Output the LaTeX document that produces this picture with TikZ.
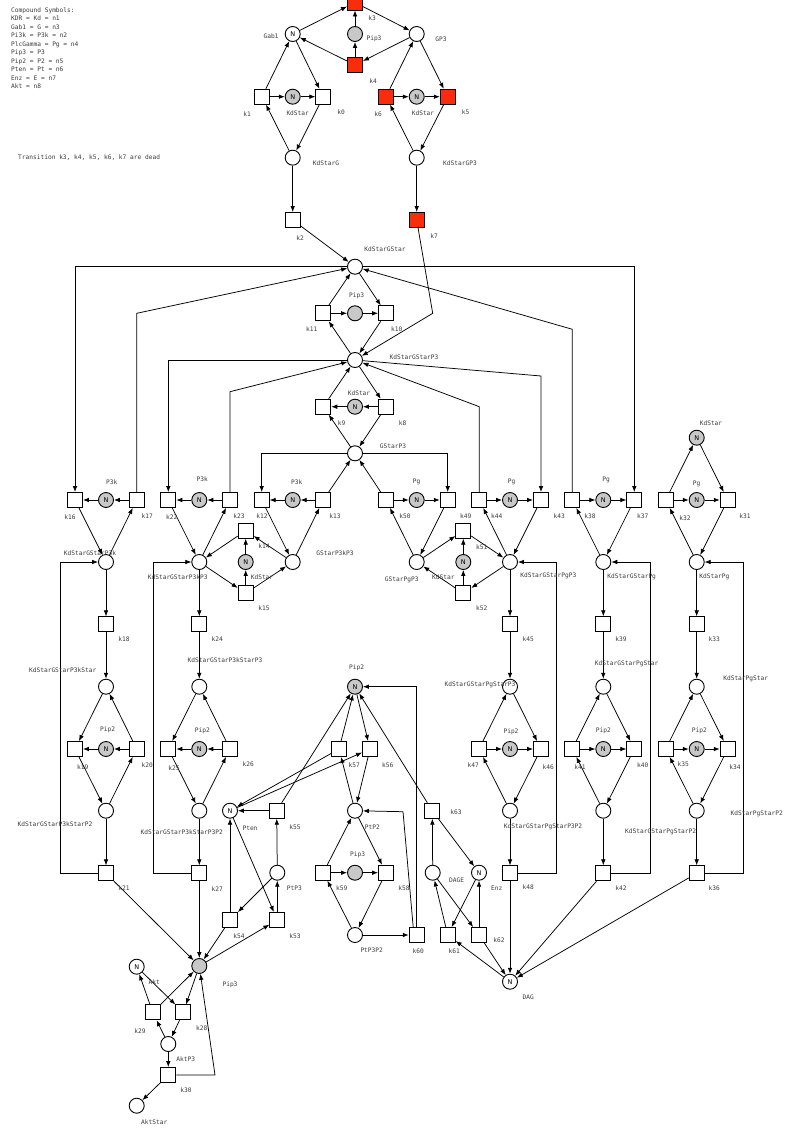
\documentclass[tikz,border=0pt]{standalone}
\usepackage{fontspec}
\newfontfamily\monof{DejaVu Sans Mono}
\newfontfamily\sansf{DejaVu Sans}
\usetikzlibrary{arrows.meta}
\definecolor{deadred}{RGB}{250,45,10}
\definecolor{tokgrey}{RGB}{200,200,200}
\definecolor{lbgrey}{RGB}{60,60,60}
\begin{document}
\begin{tikzpicture}[x=1pt,y=-1pt,
 pl/.style={circle,draw,line width=0.9pt,minimum size=15pt,inner sep=0pt,fill=white},
 gpl/.style={pl,fill=tokgrey},
 tr/.style={rectangle,draw,line width=0.9pt,minimum size=15pt,inner sep=0pt,fill=white},
 dtr/.style={tr,fill=deadred},
 lb/.style={font=\monof\fontsize{6.2}{7}\selectfont,text=lbgrey,inner sep=0pt},
 arc/.style={line width=0.75pt,-{Latex[length=6pt,width=4.6pt]}},
 ntok/.style={font=\sansf\fontsize{6.5}{7}\selectfont}]
\useasboundingbox[fill=white] (0,0) rectangle (787,1129);

% legend
\node[lb,anchor=north west,align=left,font=\monof\fontsize{6.2}{8.5}\selectfont] (legend) at (11,7.2)
 {Compound Symbols:\\KDR = Kd = n1\\Gab1 = G = n3\\Pi3k = P3k = n2\\PlcGamma = Pg = n4\\Pip3 = P3\\Pip2 = P2 = n5\\Pten = Pt = n6\\Enz = E = n7\\Akt = n8};
\node[lb,anchor=west] (note) at (18,158) {Transition k3, k4, k5, k6, k7 are dead};

% top
\node[dtr] (k3) at (355,2.5) {};
\node[pl,ntok] (Gab1) at (292.7,34) {N};
\node[gpl] (Pip3a) at (355,34) {};
\node[pl] (GP3) at (416.7,34) {};
\node[dtr] (k4) at (355,65) {};
\node[tr] (k1) at (262,96.7) {};
\node[gpl,ntok] (Kd1) at (292.7,96.7) {N};
\node[tr] (k0) at (323.3,96.7) {};
\node[dtr] (k6) at (386,96.7) {};
\node[gpl,ntok] (Kd2) at (416.7,96.7) {N};
\node[dtr] (k5) at (447.7,96.7) {};
\node[pl] (KdSG) at (292.7,157.7) {};
\node[pl] (KdSGP3) at (416.7,157.7) {};
\node[tr] (k2) at (292.7,220) {};
\node[dtr] (k7) at (416.7,220) {};
\node[pl] (KdSGS) at (355,266.7) {};
\node[tr] (k11) at (323.3,313.3) {};
\node[gpl] (Pip3b) at (355,313.3) {};
\node[tr] (k10) at (386,313.3) {};
\node[pl] (KdSGSP3) at (355,360) {};
\node[tr] (k9) at (323.3,406.7) {};
\node[gpl,ntok] (Kd3) at (355,406.7) {N};
\node[tr] (k8) at (386,406.7) {};
\node[pl] (GSP3) at (355,453.3) {};
\node[gpl,ntok] (Kd6) at (696.7,437.7) {N};
% row 500
\node[tr] (k16) at (75,500) {};
\node[gpl,ntok] (P3k1) at (106,500) {N};
\node[tr] (k17) at (136.7,500) {};
\node[tr] (k22) at (168.3,500) {};
\node[gpl,ntok] (P3k2) at (199.3,500) {N};
\node[tr] (k23) at (230,500) {};
\node[tr] (k12) at (261.7,500) {};
\node[gpl,ntok] (P3k3) at (292.7,500) {N};
\node[tr] (k13) at (323.3,500) {};
\node[tr] (k50) at (386,500) {};
\node[gpl,ntok] (Pg1) at (416.7,500) {N};
\node[tr] (k49) at (447.7,500) {};
\node[tr] (k44) at (479.3,500) {};
\node[gpl,ntok] (Pg2) at (510,500) {N};
\node[tr] (k43) at (541,500) {};
\node[tr] (k38) at (572.3,500) {};
\node[gpl,ntok] (Pg3) at (603.3,500) {N};
\node[tr] (k37) at (634.3,500) {};
\node[tr] (k32) at (665.7,500) {};
\node[gpl,ntok] (Pg4) at (696.7,500) {N};
\node[tr] (k31) at (727.7,500) {};
% k14 k15 k51 k52
\node[tr] (k14) at (245.7,530.7) {};
\node[tr] (k51) at (463.3,530.7) {};
\node[gpl,ntok] (Kd4) at (245.7,562) {N};
\node[gpl,ntok] (Kd5) at (463.3,562) {N};
\node[tr] (k15) at (245.7,593.3) {};
\node[tr] (k52) at (463.3,593.3) {};
% row 562
\node[pl] (pA1) at (106,562) {};
\node[pl] (pB1) at (199.3,562) {};
\node[pl] (GSP3kP3) at (292.7,562) {};
\node[pl] (GSPgP3) at (416.7,562) {};
\node[pl] (pC1) at (510,562) {};
\node[pl] (pD1) at (603.3,562) {};
\node[pl] (pE1) at (696.7,562) {};
% columns
\node[tr] (k18) at (106,624.3) {};
\node[tr] (k24) at (199.3,624.3) {};
\node[tr] (k45) at (510,624.3) {};
\node[tr] (k39) at (603.3,624.3) {};
\node[tr] (k33) at (696.7,624.3) {};
\node[pl] (pA2) at (106,686.7) {};
\node[pl] (pB2) at (199.3,686.7) {};
\node[pl] (pC2) at (510,686.7) {};
\node[pl] (pD2) at (603.3,686.7) {};
\node[pl] (pE2) at (696.7,686.7) {};
\node[tr] (k19) at (75,749) {};
\node[gpl,ntok] (PipA) at (106,749) {N};
\node[tr] (k20) at (136.7,749) {};
\node[tr] (k25) at (168.3,749) {};
\node[gpl,ntok] (PipB) at (199.3,749) {N};
\node[tr] (k26) at (230,749) {};
\node[tr] (k47) at (479,749) {};
\node[gpl,ntok] (PipC) at (510,749) {N};
\node[tr] (k46) at (541,749) {};
\node[tr] (k41) at (572.3,749) {};
\node[gpl,ntok] (PipD) at (603.3,749) {N};
\node[tr] (k40) at (634.3,749) {};
\node[tr] (k35) at (665.7,749) {};
\node[gpl,ntok] (PipE) at (696.7,749) {N};
\node[tr] (k34) at (727.7,749) {};
\node[pl] (pA3) at (106,810.7) {};
\node[pl] (pB3) at (199.3,810.7) {};
\node[pl] (pC3) at (510,810.7) {};
\node[pl] (pD3) at (603.3,810.7) {};
\node[pl] (pE3) at (696.7,810.7) {};
\node[tr] (k21) at (106,873.3) {};
\node[tr] (k27) at (199.3,873.3) {};
\node[tr] (k48) at (510,873.3) {};
\node[tr] (k42) at (603.3,873.3) {};
\node[tr] (k36) at (696.7,873.3) {};
% middle
\node[gpl,ntok] (Pip2c) at (355,686.7) {N};
\node[tr] (k57) at (339,749) {};
\node[tr] (k56) at (370,749) {};
\node[pl,ntok] (Pten) at (230,810.7) {N};
\node[tr] (k55) at (276.7,810.7) {};
\node[pl] (PtP2) at (355,810.7) {};
\node[tr] (k63) at (432.3,810.7) {};
\node[pl] (PtP3) at (277.3,872.7) {};
\node[tr] (k59) at (323.3,872.7) {};
\node[gpl] (Pip3c) at (355,872.7) {};
\node[tr] (k58) at (386,872.7) {};
\node[pl] (DAGE) at (432.7,872.7) {};
\node[pl,ntok] (Enz) at (479,872.7) {N};
\node[tr] (k54) at (230,920) {};
\node[tr] (k53) at (277.3,920) {};
\node[pl] (PtP3P2) at (355,935) {};
\node[tr] (k60) at (416.7,935) {};
\node[tr] (k61) at (447.7,935) {};
\node[tr] (k62) at (479,935) {};
\node[gpl] (Pip3d) at (199.3,966) {};
\node[pl,ntok] (Akt) at (136.7,966.7) {N};
\node[pl,ntok] (DAG) at (510,981.7) {N};
\node[tr] (k29) at (152.7,1012.3) {};
\node[tr] (k28) at (183.3,1012.3) {};
\node[pl] (AktP3) at (168.3,1044) {};
\node[tr] (k30) at (168.3,1075) {};
\node[pl] (AktStar) at (136.7,1105.7) {};

% straight arcs
\foreach \a/\b in {Gab1/k3, k3/GP3, GP3/k4, k4/Gab1, k4/Pip3a, Pip3a/k3,
 k1/Gab1, Gab1/k0, k1/Kd1, Kd1/k0, KdSG/k1, k0/KdSG,
 k6/GP3, GP3/k5, k6/Kd2, Kd2/k5, KdSGP3/k6, k5/KdSGP3,
 KdSG/k2, k2/KdSGS, KdSGP3/k7,
 k11/KdSGS, KdSGS/k10, k11/Pip3b, Pip3b/k10, KdSGSP3/k11, k10/KdSGSP3,
 KdSGSP3/k8, k8/Kd3, Kd3/k9, k9/KdSGSP3, GSP3/k9, k8/GSP3,
 k13/GSP3, k50/GSP3,
 k17/P3k1, P3k1/k16, k23/P3k2, P3k2/k22, k13/P3k3, P3k3/k12, k50/Pg1, Pg1/k49,
 k44/Pg2, Pg2/k43, k38/Pg3, Pg3/k37, k32/Pg4, Pg4/k31, k32/Kd6, Kd6/k31,
 k16/pA1, pA1/k17, k22/pB1, pB1/k23, k12/GSP3kP3, GSP3kP3/k13, GSPgP3/k50, k49/GSPgP3,
 pC1/k44, k43/pC1, pD1/k38, k37/pD1, pE1/k32, k31/pE1,
 Kd4/k14, GSP3kP3/k14, k14/pB1, pB1/k15, k15/Kd4, k15/GSP3kP3,
 Kd5/k51, GSPgP3/k51, k51/pC1, pC1/k52, k52/Kd5, k52/GSPgP3,
 pA1/k18, k18/pA2, pA2/k19, k20/pA2, k20/PipA, PipA/k19, k19/pA3, pA3/k20, pA3/k21,
 pB1/k24, k24/pB2, pB2/k25, k26/pB2, k26/PipB, PipB/k25, k25/pB3, pB3/k26, pB3/k27,
 pC1/k45, k45/pC2, k47/pC2, pC2/k46, k47/PipC, PipC/k46, k46/pC3, pC3/k47, pC3/k48,
 pD1/k39, k39/pD2, k41/pD2, pD2/k40, k41/PipD, PipD/k40, k40/pD3, pD3/k41, pD3/k42,
 pE1/k33, k33/pE2, k35/pE2, pE2/k34, k35/PipE, PipE/k34, k34/pE3, pE3/k35, pE3/k36,
 k21/Pip3d, k27/Pip3d, k54/Pip3d, Pip3d/k53, Pip3d/k28, k29/Pip3d,
 k29/Akt, Akt/k28, k28/AktP3, AktP3/k29, AktP3/k30, k30/AktStar,
 k54/Pten, Pten/k53, k55/Pten, k57/Pten, Pten/k56,
 PtP3/k55, k53/PtP3, PtP3/k54,
 k55/Pip2c, k57/Pip2c, Pip2c/k56, k63/Pip2c,
 PtP2/k57, k56/PtP2, PtP2/k58, k59/PtP2, k59/Pip3c, Pip3c/k58, PtP3P2/k59, k58/PtP3P2, PtP3P2/k60,
 DAGE/k63, k63/Enz, k61/DAGE, DAGE/k62, Enz/k61, k62/Enz, DAG/k61, k62/DAG,
 k48/DAG, k42/DAG, k36/DAG}
 \draw[arc] (\a) -- (\b);

% routed arcs
\draw[arc] (KdSGS.west) -| (k16);
\draw[arc] (KdSGS.east) -| (k37);
\draw[arc] (k17) -- (136.7,313.3) -- (KdSGS);
\draw[arc] (k38) -- (572.3,329.3) -- (KdSGS);
\draw[arc] (k7) -- (432.7,313.3) -- (KdSGSP3);
\draw[arc] (KdSGSP3.west) -| (k22);
\draw[arc] (k23) -- (230,391.7) -- (KdSGSP3);
\draw[arc] (KdSGSP3) -- (541,376) -- (k43);
\draw[arc] (k44) -- (479.3,406.7) -- (KdSGSP3);
\draw[arc] (GSP3.west) -| (k12);
\draw[arc] (GSP3.east) -| (k49);
\draw[arc] (k21.west) -| (60,562) -- (pA1);
\draw[arc] (k27.west) -| (153.3,562) -- (pB1);
\draw[arc] (k48.east) -| (556.7,562) -- (pC1);
\draw[arc] (k42.east) -| (650,562) -- (pD1);
\draw[arc] (k36.east) -| (743.3,562) -- (pE1);
\draw[arc] (k30.east) -- (215,1075) -- (Pip3d);
\draw[arc] (k60.north) -- (416.7,686.7) -- (Pip2c);
\draw[arc] ([xshift=-3.5pt]k60.north) -- (403,811.7) -- (PtP2);

% labels
\foreach \x/\y/\t [count=\i] in {271/36/Gab1, 374/39/Pip3, 441/39/GP3, 372/18/k3, 373/81/k4, 247/114/k1,
 297.7/113/KdStar, 341/112/k0, 378/114/k6, 423/113/KdStar, 465.7/112/k5, 326/163/KdStarG,
 460/163/KdStarGP3, 300/237.7/k2, 434/235.7/k7, 385/249/KdStarGStar,
 356.7/296/Pip3, 311.7/329/k11, 396.7/329/k10, 414/357/KdStarGStarP3, 359/392.7/KdStar,
 341.7/422.7/k9, 402.7/422.7/k8, 393/446.7/GStarP3, 711/423.3/KdStar,
 111.7/482.3/P3k, 202.3/479.3/P3k, 296.7/481.7/P3k, 416.7/481.7/Pg, 511.7/481.7/Pg, 606/480/Pg, 696.7/484/Pg,
 70/516.7/k16, 147.3/515.7/k17, 171.7/517.3/k22, 239/515.7/k23, 262/516/k12, 335/515.7/k13,
 405/515.7/k50, 465.7/515.7/k49, 496.7/515.7/k44, 559.3/515.7/k43, 590/515.7/k38, 642.7/515.7/k37,
 685/518.3/k32, 745/515.7/k31,
 264/546/k14, 481.7/546.7/k51, 264/608/k15, 481.7/608.3/k52,
 90/552.7/KdStarGStarP3k, 177.7/577.3/KdStarGStarP3kP3, 262/577/KdStar, 335/552.7/GStarP3kP3,
 401.7/580/GStarPgP3, 443.3/577/KdStar, 548.3/576/KdStarGStarPgP3, 631.7/577.3/KdStarGStarPg,
 714.3/577.3/KdStarPg,
 124/639.3/k18, 217.3/639.3/k24, 528.3/639.3/k45, 621/639.3/k39, 714.3/639.3/k33,
 62.7/670/KdStarGStarP3kStar, 225/660/KdStarGStarP3kStarP3, 356.7/667.7/Pip2,
 480/685/KdStarGStarPgStarP3, 626.7/664.3/KdStarGStarPgStar, 745.7/679.3/KdStarPgStar,
 107.7/729.3/Pip2, 202.3/730.7/Pip2, 511/731.7/Pip2, 603.3/730.7/Pip2, 699.3/730.7/Pip2,
 82.7/767.3/k19, 147.3/765/k20, 174/768.3/k25, 248.3/764.3/k26, 354.3/765/k57, 387.7/765/k56,
 473.3/765/k47, 548.3/766.7/k46, 580/766.7/k41, 642.7/765/k40, 683.3/764.3/k35, 735/766.7/k34,
 55/824.3/KdStarGStarP3kStarP2, 181.7/831.7/KdStarGStarP3kStarP3P2, 250/828.3/Pten, 295/826.7/k55,
 372.3/826.7/PtP2, 456/812.3/k63, 543/826.7/KdStarGStarPgStarP3P2, 660.7/831.7/KdStarGStarPgStarP2,
 756.7/814.3/KdStarPgStarP2,
 124/888.3/k21, 217.3/889.3/k27, 294.3/888.3/PtP3, 357.7/855/Pip3, 341.7/888.3/k59, 404/888.3/k58,
 456.7/880.7/DAGE, 496.7/888.3/Enz, 528.3/886.7/k48, 621/888.3/k42, 714.3/888.3/k36,
 239/935.7/k54, 295/935.7/k53, 371.7/950/PtP3P2, 418.3/951/k60, 454.3/951/k61, 499/940/k62,
 230/984.3/Pip3, 154.3/981.7/Akt, 528.3/997.3/DAG, 140/1030.7/k29, 201.7/1028.3/k28,
 185.7/1059.3/AktP3, 186/1090/k30, 154.3/1121.7/AktStar}
 \node[lb] (L\i) at (\x,\y) {\t};
\end{tikzpicture}
\end{document}
